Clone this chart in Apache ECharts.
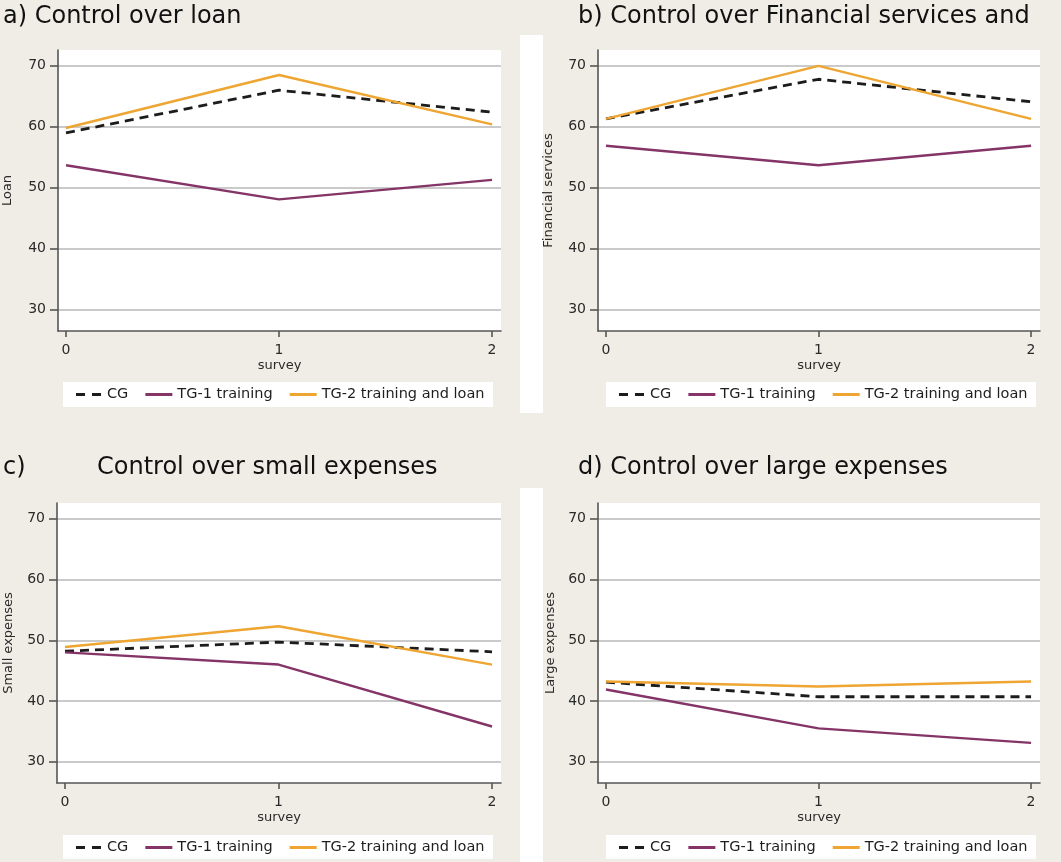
<!DOCTYPE html>
<html>
<head>
<meta charset="utf-8">
<script src="https://cdn.jsdelivr.net/npm/echarts@6/dist/echarts.min.js"></script>
<style>
html,body{margin:0;padding:0;background:#f0ede6;}
#chart{width:1061px;height:862px;}
</style>
</head>
<body>
<div id="chart"></div>
<script>
// ---- data ----
const surveys = [0, 1, 2];
const xTicks = [0, 1, 2];
const yTicks = [30, 40, 50, 60, 70];
const seriesNames = ['CG', 'TG-1 training', 'TG-2 training and loan'];

const loanCG  = [59.0, 66.0, 62.4];
const loanTG1 = [53.7, 48.1, 51.3];
const loanTG2 = [59.8, 68.5, 60.4];

const finCG  = [61.3, 67.8, 64.1];
const finTG1 = [56.9, 53.7, 56.9];
const finTG2 = [61.3, 70.0, 61.3];

const smallCG  = [48.2, 49.7, 48.1];
const smallTG1 = [48.0, 46.0, 35.8];
const smallTG2 = [48.9, 52.3, 46.0];

const largeCG  = [43.1, 40.7, 40.7];
const largeTG1 = [41.9, 35.5, 33.1];
const largeTG2 = [43.2, 42.4, 43.2];

const panelTitles = ['a) Control over loan', 'b) Control over Financial services and', 'c)', 'd) Control over large expenses'];
const panelTitleC2 = 'Control over small expenses';
const yNames = ['Loan', 'Financial services', 'Small expenses', 'Large expenses'];
const xName = 'survey';

// ---- layout ----
const panels = [
  {data: [loanCG, loanTG1, loanTG2], grid: {left: 57, top: 50, width: 444, height: 281}, nameGap: 44, legendBox: [63, 382, 430, 25]},
  {data: [finCG, finTG1, finTG2], grid: {left: 598, top: 50, width: 442, height: 281}, nameGap: 43, legendBox: [606, 382, 430, 25]},
  {data: [smallCG, smallTG1, smallTG2], grid: {left: 57, top: 503, width: 444, height: 280}, nameGap: 42, legendBox: [63, 835, 430, 24]},
  {data: [largeCG, largeTG1, largeTG2], grid: {left: 598, top: 503, width: 442, height: 280}, nameGap: 41, legendBox: [606, 835, 430, 24]}
];
const colors = ['#1c1c1c', '#843466', '#eea531'];
const FONT = 'DejaVu Sans';
const ICON_DASH = 'path://M0,0h9v3h-9z M16,0h9v3h-9z';
const ICON_SOLID = 'path://M0,0h27v3h-27z';

const grids = [], xAxes = [], yAxes = [], series = [], legends = [], graphics = [];

// white strips between panels
graphics.push({type: 'rect', shape: {x: 520, y: 35, width: 23, height: 378}, style: {fill: '#ffffff'}, z: -10});
graphics.push({type: 'rect', shape: {x: 520, y: 488, width: 23, height: 374}, style: {fill: '#ffffff'}, z: -10});

panels.forEach((p, i) => {
  grids.push(Object.assign({show: true, backgroundColor: '#ffffff', borderWidth: 0}, p.grid));
  xAxes.push({
    type: 'value', gridIndex: i, min: -0.0375, max: 2.042,
    name: xName, nameLocation: 'middle', nameGap: 28,
    nameTextStyle: {fontFamily: FONT, fontSize: 13, color: '#2a2a2a'},
    axisLine: {show: true, onZero: false, lineStyle: {color: '#555', width: 1.6}},
    axisTick: {show: true, length: 6, customValues: xTicks, lineStyle: {color: '#555', width: 1.6}},
    axisLabel: {customValues: xTicks, margin: 12, fontFamily: FONT, fontSize: 14, color: '#2a2a2a'},
    splitLine: {show: false}
  });
  yAxes.push({
    type: 'value', gridIndex: i, min: 26.5, max: 72.6,
    name: yNames[i], nameLocation: 'middle', nameGap: p.nameGap,
    nameTextStyle: {fontFamily: FONT, fontSize: 13, color: '#2a2a2a'},
    axisLine: {show: true, onZero: false, lineStyle: {color: '#555', width: 1.6}},
    axisTick: {show: true, length: 8, customValues: yTicks, lineStyle: {color: '#555', width: 1.6}},
    axisLabel: {customValues: yTicks, margin: 12, fontFamily: FONT, fontSize: 14, color: '#2a2a2a'},
    splitLine: {show: true, lineStyle: {color: '#b8b8b8', width: 1.5}}
  });
  p.data.forEach((arr, k) => {
    series.push({
      type: 'line', name: seriesNames[k], xAxisIndex: i, yAxisIndex: i,
      data: surveys.map((s, j) => [s, arr[j]]),
      symbol: 'none', silent: true, animation: false,
      lineStyle: k === 0
        ? {color: colors[k], width: 2.8, type: [9, 6]}
        : {color: colors[k], width: 2.4},
      itemStyle: {color: colors[k]},
      z: k === 0 ? 2 : 3
    });
  });
  const b = p.legendBox;
  graphics.push({type: 'rect', shape: {x: b[0], y: b[1], width: b[2], height: b[3]}, style: {fill: '#ffffff'}, z: -5});
  legends.push({
    data: seriesNames.map((n, k) => ({name: n, icon: k === 0 ? ICON_DASH : ICON_SOLID})),
    left: b[0] + 13, top: b[1] + 4, itemWidth: 27, itemHeight: 3, itemGap: 17,
    padding: 0, selectedMode: false,
    textStyle: {fontFamily: FONT, fontSize: 14.5, color: '#1e1e1e', lineHeight: 17}
  });
});

const titles = [
  {text: panelTitles[0], left: 3, top: 5},
  {text: panelTitles[1], left: 578, top: 5},
  {text: panelTitles[2], left: 3, top: 456},
  {text: panelTitleC2, left: 97, top: 456},
  {text: panelTitles[3], left: 578, top: 456}
].map(t => Object.assign(t, {padding: 0, textStyle: {fontFamily: FONT, fontSize: 24, fontWeight: 'normal', color: '#111'}}));

const chart = echarts.init(document.getElementById('chart'), null, {renderer: 'canvas'});
chart.setOption({
  backgroundColor: '#f0ede6',
  animation: false,
  title: titles,
  grid: grids,
  xAxis: xAxes,
  yAxis: yAxes,
  legend: legends,
  series: series,
  graphic: graphics
});
</script>
</body>
</html>
